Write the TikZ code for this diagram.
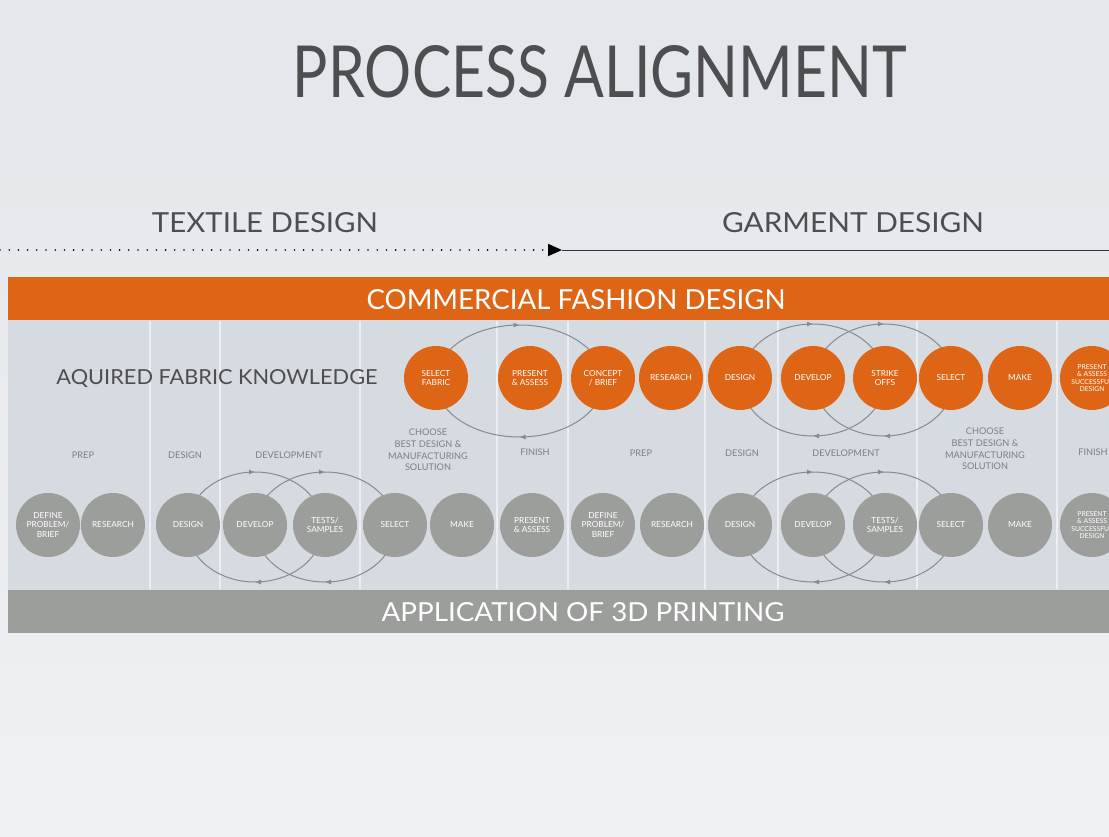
\documentclass[tikz,border=0pt]{standalone}
\usepackage{fontspec}
\setmainfont{Lato}
\usepackage{graphicx}
\usetikzlibrary{arrows.meta,decorations.markings}
\definecolor{bgtop}{RGB}{227,230,234}
\definecolor{bgbot}{RGB}{239,241,244}
\definecolor{cpanel}{RGB}{214,219,225}
\definecolor{corange}{RGB}{222,101,22}
\definecolor{cgray}{RGB}{156,158,156}
\definecolor{ctitle}{RGB}{78,78,80}
\definecolor{cphase}{RGB}{125,127,129}
\definecolor{cloop}{RGB}{135,139,143}
\definecolor{cdiv}{RGB}{236,238,241}
\newcommand{\fitbox}[3]{\resizebox{#1}{#2}{\fontsize{40}{40}\selectfont #3}}
\tikzset{
  ocirc/.style={circle, fill=corange, minimum size=64pt, inner sep=0pt, text=white,
    align=center, font=\fontsize{8.3}{9.3}\selectfont},
  gcirc/.style={ocirc, fill=cgray},
  smallcirc/.style={font=\fontsize{6.8}{7.4}\selectfont},
  phase/.style={text=cphase, align=center, inner sep=0pt, font=\fontsize{9.2}{11.8}\selectfont},
  bigtext/.style={inner sep=0pt},
  loopline/.style={draw=cloop, line width=1pt, postaction={decorate},
    decoration={markings,
      mark=at position 0.25 with {\arrow{Latex[length=6pt,width=5pt]}},
      mark=at position 0.75 with {\arrow{Latex[length=6pt,width=5pt]}}}},
  divider/.style={draw=cdiv, line width=2pt},
}
\begin{document}
\begin{tikzpicture}[x=1pt,y=-1pt]
\useasboundingbox (0,0) rectangle (1109,837);
\clip (0,0) rectangle (1109,837);
% background
\shade[top color=bgtop, bottom color=bgbot] (0,0) rectangle (1109,837);
% title
\node[bigtext, text=ctitle] (title) at (600,72) {\fitbox{614pt}{52pt}{PROCESS ALIGNMENT}};
\node[bigtext, text=ctitle] (textile) at (265,223) {\fitbox{226pt}{20pt}{TEXTILE DESIGN}};
\node[bigtext, text=ctitle] (garment) at (853,223) {\fitbox{262pt}{20pt}{GARMENT DESIGN}};
% timeline
\coordinate (ls) at (0,250);
\coordinate (mid) at (562,250);
\coordinate (le) at (1109,250);
\draw[black, line width=1.8pt, line cap=round, dash pattern=on 0pt off 9.2pt,
      -{Triangle[length=14pt,width=12pt,line cap=butt]}] (ls) -- (mid);
\draw[black!80, line width=0.9pt] (mid) -- (le);
% panel and bands
\fill[cpanel] (8,320) rectangle (1109,590);
\fill[corange] (8,277) rectangle (1109,320);
\fill[cgray] (8,590) rectangle (1109,633);
\node[bigtext, text=white] (cfd) at (576,300) {\fitbox{419pt}{20pt}{COMMERCIAL FASHION DESIGN}};
\node[bigtext, text=white] (a3d) at (583,612) {\fitbox{403pt}{19pt}{APPLICATION OF 3D PRINTING}};
% dividers
\foreach \xx in {150,220,360,497,568,705,778,917,1057}
  \draw[divider] (\xx,321) -- (\xx,589);
\node[bigtext, text=ctitle] (afk) at (217,379) {\fitbox{321pt}{15pt}{AQUIRED FABRIC KNOWLEDGE}};
% loops (behind circles)
\coordinate (lt1) at (519.5,381);
\coordinate (lt2) at (813,380);
\coordinate (lt3) at (884,380);
\coordinate (lb1) at (255,527);
\coordinate (lb2) at (325,527);
\coordinate (lb3) at (813,527);
\coordinate (lb4) at (884,527);
\draw[loopline] (lt1) ellipse [x radius=84, y radius=56];
\draw[loopline] (lt2) ellipse [x radius=72, y radius=56];
\draw[loopline] (lt3) ellipse [x radius=70, y radius=56];
\draw[loopline] (lb1) ellipse [x radius=68, y radius=55];
\draw[loopline] (lb2) ellipse [x radius=70, y radius=55];
\draw[loopline] (lb3) ellipse [x radius=72, y radius=55];
\draw[loopline] (lb4) ellipse [x radius=70, y radius=55];
% top orange circles
\node[ocirc] (t1) at (436,378) {SELECT\\FABRIC};
\node[ocirc] (t2) at (530,378) {PRESENT\\\& ASSESS};
\node[ocirc] (t3) at (603,378) {CONCEPT\\/ BRIEF};
\node[ocirc] (t4) at (671,378) {RESEARCH};
\node[ocirc] (t5) at (740,378) {DESIGN};
\node[ocirc] (t6) at (813,378) {DEVELOP};
\node[ocirc] (t7) at (885,378) {STRIKE\\OFFS};
\node[ocirc] (t8) at (951,378) {SELECT};
\node[ocirc] (t9) at (1020,378) {MAKE};
\node[ocirc, smallcirc] (t10) at (1092,378) {PRESENT\\\& ASSESS\\SUCCESSFUL\\DESIGN};
% phase labels
\node[phase] (p1) at (83,455) {PREP};
\node[phase] (p2) at (185,455) {DESIGN};
\node[phase] (p3) at (289,455) {DEVELOPMENT};
\node[phase] (p4) at (428,450) {CHOOSE\\BEST DESIGN \&\\MANUFACTURING\\SOLUTION};
\node[phase] (p5) at (535,452) {FINISH};
\node[phase] (p6) at (641,453) {PREP};
\node[phase] (p7) at (742,453) {DESIGN};
\node[phase] (p8) at (846,453) {DEVELOPMENT};
\node[phase] (p9) at (985,449) {CHOOSE\\BEST DESIGN \&\\MANUFACTURING\\SOLUTION};
\node[phase] (p10) at (1093,452) {FINISH};
% bottom gray circles
\node[gcirc] (b1) at (48,525) {DEFINE\\PROBLEM/\\BRIEF};
\node[gcirc] (b2) at (113,525) {RESEARCH};
\node[gcirc] (b3) at (188,525) {DESIGN};
\node[gcirc] (b4) at (255,525) {DEVELOP};
\node[gcirc] (b5) at (325,525) {TESTS/\\SAMPLES};
\node[gcirc] (b6) at (395,525) {SELECT};
\node[gcirc] (b7) at (462,525) {MAKE};
\node[gcirc] (b8) at (532,525) {PRESENT\\\& ASSESS};
\node[gcirc] (b9) at (603,525) {DEFINE\\PROBLEM/\\BRIEF};
\node[gcirc] (b10) at (672,525) {RESEARCH};
\node[gcirc] (b11) at (740,525) {DESIGN};
\node[gcirc] (b12) at (813,525) {DEVELOP};
\node[gcirc] (b13) at (885,525) {TESTS/\\SAMPLES};
\node[gcirc] (b14) at (951,525) {SELECT};
\node[gcirc] (b15) at (1020,525) {MAKE};
\node[gcirc, smallcirc] (b16) at (1092,525) {PRESENT\\\& ASSESS\\SUCCESSFUL\\DESIGN};
\end{tikzpicture}
\end{document}
